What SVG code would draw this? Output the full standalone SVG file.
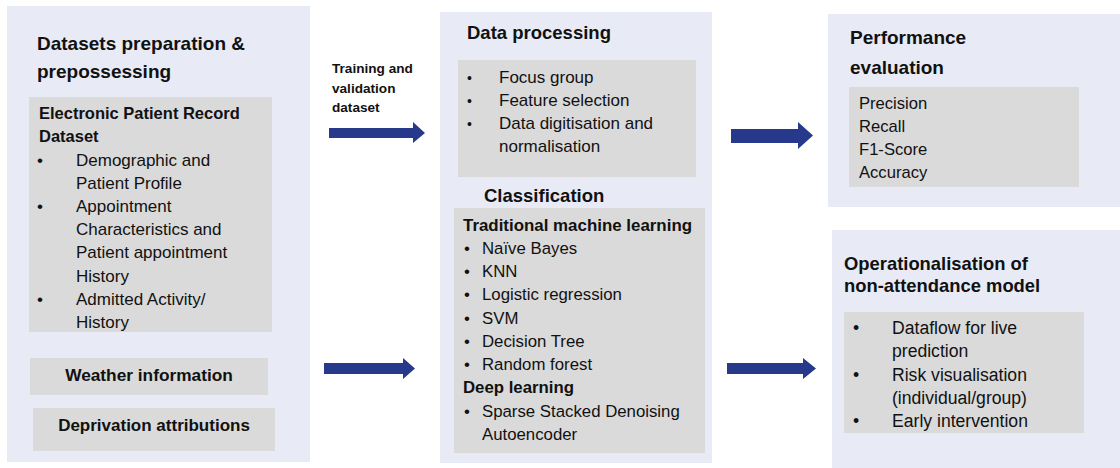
<svg xmlns="http://www.w3.org/2000/svg" width="1120" height="468" viewBox="0 0 1120 468">
<style>
.panel{fill:#e8ebf5}
.box{fill:#dadada}
text{font-family:"Liberation Sans",Arial,sans-serif;fill:#111}
.h{font-weight:bold;font-size:19px}
.b{font-weight:bold}
.arrow{fill:#27398a}
</style>
<rect width="1120" height="468" fill="#ffffff"/>

<g id="datasets">
<rect class="panel" x="7" y="6" width="303" height="456"/>
<text class="h" x="37" y="50">Datasets preparation &amp;</text>
<text class="h" x="37" y="78">prepossessing</text>
<g id="epr">
<rect class="box" x="29" y="97" width="243" height="235"/>
<text class="b" x="39" y="119" font-size="16.5">Electronic Patient Record</text>
<text class="b" x="39" y="142" font-size="16.5">Dataset</text>
<g font-size="17">
<text x="37" y="166">•</text>
<text x="76" y="166">Demographic and</text>
<text x="76" y="189">Patient Profile</text>
<text x="37" y="212">•</text>
<text x="76" y="212">Appointment</text>
<text x="76" y="235">Characteristics and</text>
<text x="76" y="258">Patient appointment</text>
<text x="76" y="282">History</text>
<text x="37" y="305">•</text>
<text x="76" y="305">Admitted Activity/</text>
<text x="76" y="328">History</text>
</g>
</g>
<g id="weather">
<rect class="box" x="30" y="358" width="238" height="37"/>
<text class="b" x="149" y="381" font-size="17.3" text-anchor="middle">Weather information</text>
</g>
<g id="deprivation">
<rect class="box" x="33" y="408" width="242" height="43"/>
<text class="b" x="154" y="431" font-size="17" text-anchor="middle">Deprivation attributions</text>
</g>
</g>

<g id="processing">
<rect class="panel" x="440" y="12" width="272" height="451"/>
<text class="b" x="467" y="39" font-size="18.5">Data processing</text>
<g id="dp-box">
<rect class="box" x="458" y="60" width="238" height="117"/>
<g font-size="17">
<text x="467" y="83" font-size="14">•</text>
<text x="499" y="83">Focus group</text>
<text x="467" y="106" font-size="14">•</text>
<text x="499" y="106">Feature selection</text>
<text x="467" y="129" font-size="14">•</text>
<text x="499" y="129">Data digitisation and</text>
<text x="499" y="152">normalisation</text>
</g>
</g>
<text class="b" x="484" y="202" font-size="18.5">Classification</text>
<g id="classification">
<rect class="box" x="454" y="208" width="251" height="245"/>
<text class="b" x="463" y="231" font-size="16.9">Traditional machine learning</text>
<g font-size="16.8">
<text x="464" y="254">•</text><text x="482" y="254">Naïve Bayes</text>
<text x="464" y="277">•</text><text x="482" y="277">KNN</text>
<text x="464" y="300">•</text><text x="482" y="300">Logistic regression</text>
<text x="464" y="324">•</text><text x="482" y="324">SVM</text>
<text x="464" y="347">•</text><text x="482" y="347">Decision Tree</text>
<text x="464" y="370">•</text><text x="482" y="370">Random forest</text>
<text class="b" x="463" y="393">Deep learning</text>
<text x="464" y="417">•</text><text x="482" y="417">Sparse Stacked Denoising</text>
<text x="482" y="440">Autoencoder</text>
</g>
</g>
</g>

<g id="performance">
<rect class="panel" x="828" y="14" width="300" height="193"/>
<text class="h" x="850" y="44">Performance</text>
<text class="h" x="850" y="74">evaluation</text>
<rect class="box" x="849" y="87" width="230" height="100"/>
<g font-size="16.6">
<text x="859" y="109">Precision</text>
<text x="859" y="132">Recall</text>
<text x="859" y="155">F1-Score</text>
<text x="859" y="178">Accuracy</text>
</g>
</g>

<g id="operationalisation">
<rect class="panel" x="832" y="230" width="296" height="240"/>
<text class="b" x="844" y="270" font-size="18.4">Operationalisation of</text>
<text class="b" x="844" y="292" font-size="18.4">non-attendance model</text>
<rect class="box" x="844" y="312" width="240" height="121"/>
<g font-size="17.6">
<text x="853" y="334">•</text><text x="892" y="334">Dataflow for live</text>
<text x="892" y="357">prediction</text>
<text x="853" y="381">•</text><text x="892" y="381">Risk visualisation</text>
<text x="892" y="404">(individual/group)</text>
<text x="853" y="427">•</text><text x="892" y="427">Early intervention</text>
</g>
</g>

<g id="label-training">
<text class="b" font-size="13.6" x="332" y="73">Training and</text>
<text class="b" font-size="13.6" x="332" y="93">validation</text>
<text class="b" font-size="13.6" x="332" y="112">dataset</text>
</g>

<g id="connectors">
<path class="arrow" d="M329 128 H413 V122 L425 133 L413 143 V138 H329 Z"/>
<path class="arrow" d="M324 363 H403 V358 L415 368.5 L403 379 V374 H324 Z"/>
<path class="arrow" d="M731 129 H798 V122 L813 135.5 L798 149 V143 H731 Z"/>
<path class="arrow" d="M727 363 H803 V358 L816 368.5 L803 379 V374 H727 Z"/>
</g>
</svg>
